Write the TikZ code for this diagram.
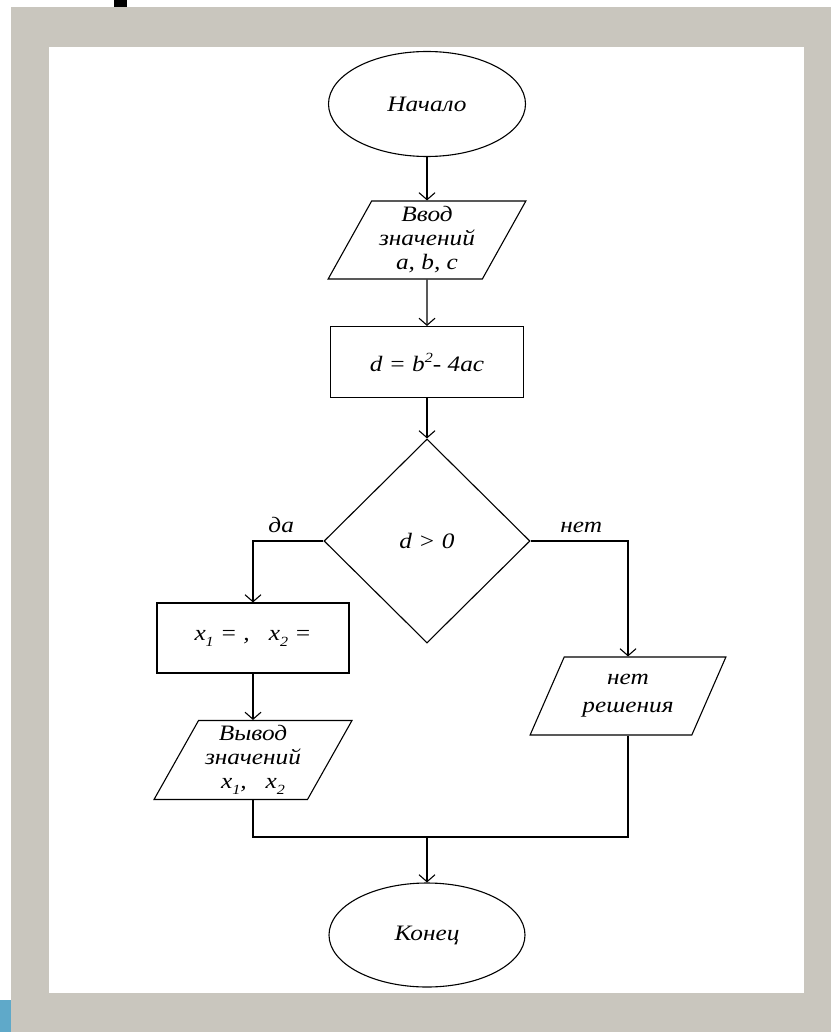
\documentclass[tikz,border=0pt]{standalone}
\usepackage{fontspec}
\setmainfont{Liberation Serif}[FakeStretch=1.15]
\usetikzlibrary{shapes.geometric,arrows.meta}
\definecolor{framegrey}{HTML}{C9C6BE}
\definecolor{edgeblue}{HTML}{5FA9C9}
\newcommand{\hisup}[1]{\raisebox{9pt}{\fontsize{14}{14}\selectfont #1}}
\newcommand{\losub}[1]{\raisebox{-6pt}{\fontsize{14}{14}\selectfont #1}}
\tikzset{
  every node/.style={font=\fontsize{22}{24}\selectfont\itshape, align=center},
  terminal/.style={draw, line width=1.1pt, ellipse, inner sep=0pt},
  iobox/.style={draw, line width=1.1pt, trapezium, trapezium left angle=60.5, trapezium right angle=119.5,
    trapezium stretches=true, inner sep=0pt},
  process/.style={draw, line width=1.1pt, rectangle, inner sep=0pt},
  decision/.style={draw, line width=1.1pt, diamond, inner sep=0pt},
  arr/.style={line width=1.1pt, -{Straight Barb[length=7pt,width=16pt]}},
  line/.style={line width=1.1pt}
}
\begin{document}
\begin{tikzpicture}[x=1pt,y=-1pt]
    \useasboundingbox (0,0) rectangle (831,1032);
    % Frame
    \fill[white] (0,0) rectangle (831,1032);
    \fill[framegrey] (11,7) rectangle (831,1032);
    \fill[black] (114,0) rectangle (127,7);
    \fill[edgeblue] (0,1000) rectangle (11,1032);
    \fill[white] (49,47) rectangle (804,993);

    % Blocks
    \node[terminal, minimum width=197pt, minimum height=105pt] (start) at (427,104) {Начало};
    \node[iobox, minimum width=198pt, minimum height=78pt] (input) at (427,240) {Ввод\\значений\\a, b, c};
    \node[process, minimum width=193pt, minimum height=71pt] (calc) at (427,362) {d = b\hisup{2}- 4ac};
    \node[decision, minimum width=206pt, minimum height=204pt] (cond) at (427,541) {d {>} 0};
    \node[process, minimum width=192pt, minimum height=70pt] (roots) at (253,638) {x\losub{1} = ,~~~x\losub{2} =};
    \node[iobox, minimum width=198pt, minimum height=79pt] (output) at (253,760) {Вывод\\значений\\x\losub{1},~~~x\losub{2}};
    \node[iobox, minimum width=196pt, minimum height=78pt] (nosol) at (628,696) {нет\\[4pt]решения};
    \node[terminal, minimum width=196pt, minimum height=104pt] (stop) at (427,935) {Конец};
    \coordinate (join) at (427,837);

    % Connectors
    \draw[arr] (start) -- (input);
    \draw[arr] (input) -- (calc);
    \draw[arr] (calc) -- (cond);
    \draw[arr] (cond.west) -| node[pos=0.3, above=4pt] {да} (roots.north);
    \draw[arr] (cond.east) -| node[pos=0.26, above=4pt] {нет} (nosol.north);
    \draw[arr] (roots) -- (output);
    \draw[line] (output.south) |- (join);
    \draw[line] (nosol.south) |- (join);
    \draw[arr] (join) -- (stop);
\end{tikzpicture}
\end{document}
